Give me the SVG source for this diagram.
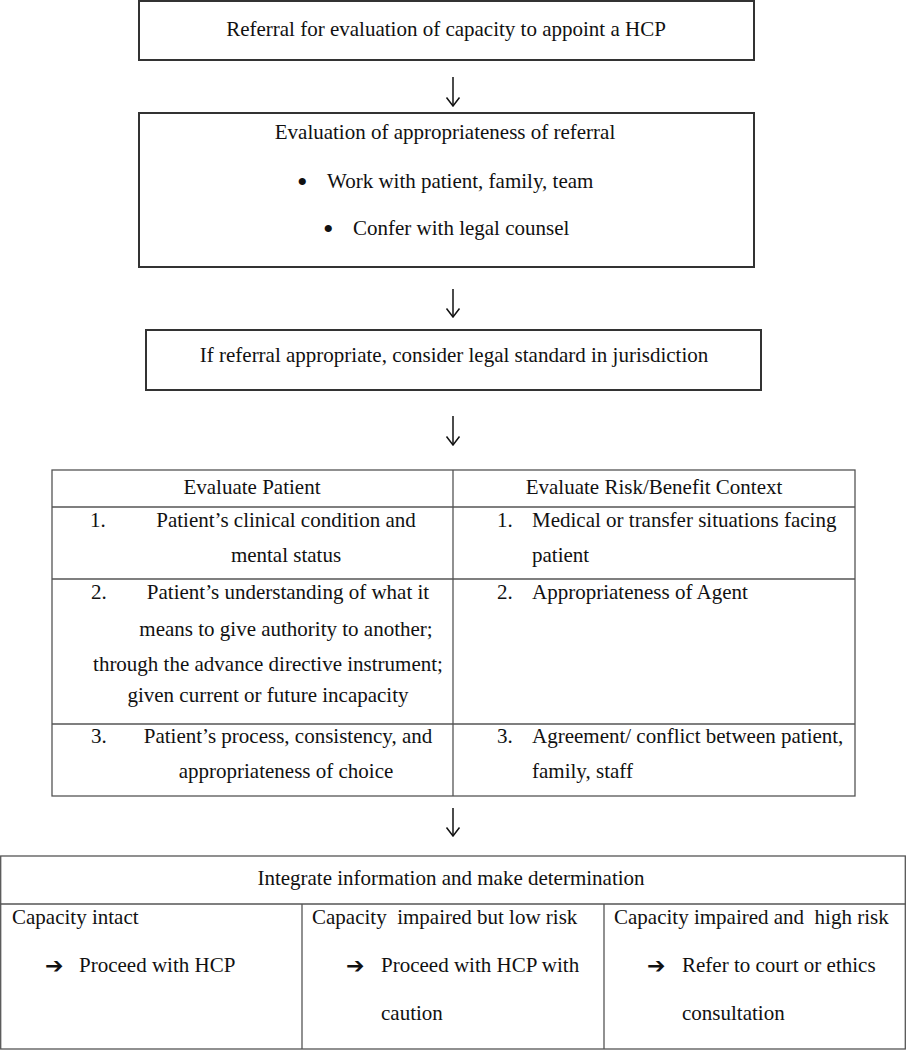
<svg xmlns="http://www.w3.org/2000/svg" width="906" height="1050" viewBox="0 0 906 1050">
<style>
  .bg { fill: #ffffff; }
  .box { fill: #ffffff; stroke: #333333; stroke-width: 2; }
  .cell { fill: none; stroke: #555555; stroke-width: 1.3; }
  .t { font-family: "Liberation Serif", "Times New Roman", serif; font-size: 21px; fill: #111111; }
  .c { text-anchor: middle; }
  .bul { font-family: "Liberation Serif", "Times New Roman", serif; font-size: 30px; fill: #111111; }
  .sym { font-family: "DejaVu Sans", sans-serif; font-size: 22px; font-weight: bold; fill: #111111; }
  .conn { fill: none; stroke: #111111; stroke-width: 1.5; }
</style>
<defs>
  <marker id="ah" viewBox="0 0 10 16" markerWidth="10" markerHeight="16" refX="9" refY="8" orient="auto" markerUnits="userSpaceOnUse">
    <path d="M0.5,1.5 L9,8 L0.5,14.5" fill="none" stroke="#111111" stroke-width="1.5"/>
  </marker>
</defs>
<rect class="bg" x="0" y="0" width="906" height="1050"/>

<g id="n1">
  <rect class="box" x="139" y="1" width="615" height="59"/>
  <text class="t c" x="446" y="36">Referral for evaluation of capacity to appoint a HCP</text>
</g>

<g id="n2">
  <rect class="box" x="139" y="113" width="615" height="154"/>
  <text class="t c" x="445" y="139">Evaluation of appropriateness of referral</text>
  <text class="bul" x="297" y="192">•</text>
  <text class="t" x="327" y="188">Work with patient, family, team</text>
  <text class="bul" x="323" y="239">•</text>
  <text class="t" x="353" y="235">Confer with legal counsel</text>
</g>

<g id="n3">
  <rect class="box" x="146" y="330" width="615" height="60"/>
  <text class="t c" x="454" y="362">If referral appropriate, consider legal standard in jurisdiction</text>
</g>

<g id="n4">
  <rect class="cell" x="52" y="470" width="803" height="326"/>
  <line class="cell" x1="453" y1="470" x2="453" y2="796"/>
  <line class="cell" x1="52" y1="507" x2="855" y2="507"/>
  <line class="cell" x1="52" y1="579" x2="855" y2="579"/>
  <line class="cell" x1="52" y1="724" x2="855" y2="724"/>
  <text class="t c" x="252" y="494">Evaluate Patient</text>
  <text class="t c" x="654" y="494">Evaluate Risk/Benefit Context</text>

  <text class="t" x="90" y="527">1.</text>
  <text class="t c" x="286" y="527">Patient’s clinical condition and</text>
  <text class="t c" x="286" y="562">mental status</text>

  <text class="t" x="91" y="599">2.</text>
  <text class="t c" x="288" y="599">Patient’s understanding of what it</text>
  <text class="t c" x="286" y="636">means to give authority to another;</text>
  <text class="t c" x="268" y="671">through the advance directive instrument;</text>
  <text class="t c" x="268" y="702">given current or future incapacity</text>

  <text class="t" x="91" y="743">3.</text>
  <text class="t c" x="288" y="743">Patient’s process, consistency, and</text>
  <text class="t c" x="286" y="778">appropriateness of choice</text>

  <text class="t" x="497" y="527">1.</text>
  <text class="t" x="532" y="527">Medical or transfer situations facing</text>
  <text class="t" x="532" y="562">patient</text>
  <text class="t" x="497" y="599">2.</text>
  <text class="t" x="532" y="599">Appropriateness of Agent</text>
  <text class="t" x="497" y="743">3.</text>
  <text class="t" x="532" y="743">Agreement/ conflict between patient,</text>
  <text class="t" x="532" y="778">family, staff</text>
</g>

<g id="n5">
  <rect class="cell" x="0.7" y="856" width="904.6" height="193"/>
  <line class="cell" x1="0" y1="904" x2="906" y2="904"/>
  <line class="cell" x1="302" y1="904" x2="302" y2="1049"/>
  <line class="cell" x1="604" y1="904" x2="604" y2="1049"/>
  <text class="t c" x="451" y="885">Integrate information and make determination</text>

  <text class="t" x="12" y="924">Capacity intact</text>
  <text class="sym" x="45" y="973">➔</text>
  <text class="t" x="79" y="972">Proceed with HCP</text>

  <text class="t" x="312" y="924" xml:space="preserve">Capacity  impaired but low risk</text>
  <text class="sym" x="346" y="973">➔</text>
  <text class="t" x="381" y="972">Proceed with HCP with</text>
  <text class="t" x="381" y="1020">caution</text>

  <text class="t" x="614" y="924" xml:space="preserve">Capacity impaired and  high risk</text>
  <text class="sym" x="647" y="973">➔</text>
  <text class="t" x="682" y="972">Refer to court or ethics</text>
  <text class="t" x="682" y="1020">consultation</text>
</g>

<g id="connectors">
  <path class="conn" d="M453,77 V106" marker-end="url(#ah)"/>
  <path class="conn" d="M453,289 V317" marker-end="url(#ah)"/>
  <path class="conn" d="M453,416 V445" marker-end="url(#ah)"/>
  <path class="conn" d="M453,808 V836" marker-end="url(#ah)"/>
</g>
</svg>
